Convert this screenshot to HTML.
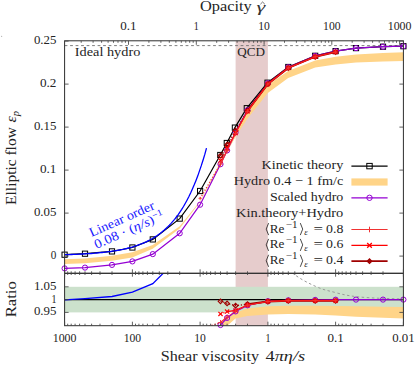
<!DOCTYPE html><html><head><meta charset="utf-8"><style>html,body{margin:0;padding:0;background:#fff}</style></head><body><svg width="415" height="367" viewBox="0 0 415 367" style="display:block">
<rect x="0" y="0" width="415" height="367" fill="#fff"/>
<defs>
<clipPath id="cm"><rect x="64.6" y="40.8" width="338.79999999999995" height="232.5"/></clipPath>
<clipPath id="cr"><rect x="64.6" y="273.3" width="338.79999999999995" height="52.39999999999998"/></clipPath>
</defs>
<rect x="235.6" y="40.8" width="32.3" height="284.9" fill="#e6cccc"/>
<rect x="64.6" y="286.8" width="338.79999999999995" height="25.6" fill="#cce1cc"/>
<line clip-path="url(#cm)" x1="64.6" y1="45.6" x2="403.4" y2="45.6" stroke="#707070" stroke-width="0.9" stroke-dasharray="2.8 2.7"/>
<polyline clip-path="url(#cm)" points="64.6,254.7 85.0,253.7 112.0,251.4 132.4,247.5 152.8,239.4 179.7,218.6 200.1,191.0 220.3,155.0 226.8,143.0 234.9,127.6 246.8,108.2 267.5,82.7 288.3,67.0 315.2,55.8 335.6,51.1 356.0,48.1 383.0,46.7 403.4,46.2" fill="none" stroke="#000" stroke-width="1.2"/>
<rect x="62.0" y="252.1" width="5.2" height="5.2" fill="none" stroke="#000" stroke-width="1"/>
<rect x="82.4" y="251.1" width="5.2" height="5.2" fill="none" stroke="#000" stroke-width="1"/>
<rect x="109.4" y="248.8" width="5.2" height="5.2" fill="none" stroke="#000" stroke-width="1"/>
<rect x="129.8" y="244.9" width="5.2" height="5.2" fill="none" stroke="#000" stroke-width="1"/>
<rect x="150.2" y="236.8" width="5.2" height="5.2" fill="none" stroke="#000" stroke-width="1"/>
<rect x="177.1" y="216.0" width="5.2" height="5.2" fill="none" stroke="#000" stroke-width="1"/>
<rect x="197.5" y="188.4" width="5.2" height="5.2" fill="none" stroke="#000" stroke-width="1"/>
<rect x="217.7" y="152.4" width="5.2" height="5.2" fill="none" stroke="#000" stroke-width="1"/>
<rect x="224.2" y="140.4" width="5.2" height="5.2" fill="none" stroke="#000" stroke-width="1"/>
<rect x="232.3" y="125.0" width="5.2" height="5.2" fill="none" stroke="#000" stroke-width="1"/>
<rect x="244.2" y="105.6" width="5.2" height="5.2" fill="none" stroke="#000" stroke-width="1"/>
<rect x="264.9" y="80.1" width="5.2" height="5.2" fill="none" stroke="#000" stroke-width="1"/>
<rect x="285.7" y="64.4" width="5.2" height="5.2" fill="none" stroke="#000" stroke-width="1"/>
<rect x="312.6" y="53.2" width="5.2" height="5.2" fill="none" stroke="#000" stroke-width="1"/>
<rect x="333.0" y="48.5" width="5.2" height="5.2" fill="none" stroke="#000" stroke-width="1"/>
<rect x="353.4" y="45.5" width="5.2" height="5.2" fill="none" stroke="#000" stroke-width="1"/>
<rect x="380.4" y="44.1" width="5.2" height="5.2" fill="none" stroke="#000" stroke-width="1"/>
<rect x="400.8" y="43.6" width="5.2" height="5.2" fill="none" stroke="#000" stroke-width="1"/>
<polygon clip-path="url(#cm)" points="64.6,259.3 84.9,258.4 111.9,255.7 132.3,252.2 152.7,244.9 179.7,226.2 200.1,201.0 220.5,161.5 235.5,131.5 247.4,110.0 267.8,85.0 288.2,71.0 315.2,60.5 335.6,56.8 356.0,54.6 383.0,53.0 403.4,52.3 403.4,60.9 383.0,61.5 356.0,62.6 335.6,64.5 315.2,67.5 288.2,78.0 267.8,93.0 247.4,118.7 235.5,137.0 220.5,163.5 200.1,201.9 179.7,228.4 152.7,248.8 132.3,257.6 111.9,260.8 84.9,263.2 64.6,263.9" fill="#ffd488"/>
<polyline clip-path="url(#cm)" points="64.6,268.4 85.0,267.6 112.0,264.9 132.4,261.4 152.8,254.1 179.7,233.3 200.1,204.7 220.5,164.2 227.1,150.4 235.6,132.2 247.5,110.2 267.9,83.3 288.3,67.2 315.2,55.9 335.6,51.1 356.0,48.1 383.0,46.7 403.4,46.2" fill="none" stroke="#9400d3" stroke-width="1.2"/>
<circle cx="64.6" cy="268.4" r="2.6" fill="none" stroke="#9400d3" stroke-width="1"/>
<circle cx="85.0" cy="267.6" r="2.6" fill="none" stroke="#9400d3" stroke-width="1"/>
<circle cx="112.0" cy="264.9" r="2.6" fill="none" stroke="#9400d3" stroke-width="1"/>
<circle cx="132.4" cy="261.4" r="2.6" fill="none" stroke="#9400d3" stroke-width="1"/>
<circle cx="152.8" cy="254.1" r="2.6" fill="none" stroke="#9400d3" stroke-width="1"/>
<circle cx="179.7" cy="233.3" r="2.6" fill="none" stroke="#9400d3" stroke-width="1"/>
<circle cx="200.1" cy="204.7" r="2.6" fill="none" stroke="#9400d3" stroke-width="1"/>
<circle cx="220.5" cy="164.2" r="2.6" fill="none" stroke="#9400d3" stroke-width="1"/>
<circle cx="227.1" cy="150.4" r="2.6" fill="none" stroke="#9400d3" stroke-width="1"/>
<circle cx="235.6" cy="132.2" r="2.6" fill="none" stroke="#9400d3" stroke-width="1"/>
<circle cx="247.5" cy="110.2" r="2.6" fill="none" stroke="#9400d3" stroke-width="1"/>
<circle cx="267.9" cy="83.3" r="2.6" fill="none" stroke="#9400d3" stroke-width="1"/>
<circle cx="288.3" cy="67.2" r="2.6" fill="none" stroke="#9400d3" stroke-width="1"/>
<circle cx="315.2" cy="55.9" r="2.6" fill="none" stroke="#9400d3" stroke-width="1"/>
<circle cx="335.6" cy="51.1" r="2.6" fill="none" stroke="#9400d3" stroke-width="1"/>
<circle cx="356.0" cy="48.1" r="2.6" fill="none" stroke="#9400d3" stroke-width="1"/>
<circle cx="383.0" cy="46.7" r="2.6" fill="none" stroke="#9400d3" stroke-width="1"/>
<circle cx="403.4" cy="46.2" r="2.6" fill="none" stroke="#9400d3" stroke-width="1"/>
<polyline clip-path="url(#cm)" points="220.5,155.7 227.1,144.7 235.6,130.7 247.5,110.9" fill="none" stroke="#a00000" stroke-width="1.3" stroke-dasharray="1.2 1.8"/>
<polyline clip-path="url(#cm)" points="247.5,110.9 267.9,84.0 288.3,67.9 315.2,56.7 335.6,52.0" fill="none" stroke="#a00000" stroke-width="2.0"/>
<path d="M218.2 155.7L220.5 153.4L222.8 155.7L220.5 158.0Z" stroke="#a00000" stroke-width="1.2" fill="none"/>
<path d="M224.8 144.7L227.1 142.4L229.4 144.7L227.1 147.0Z" stroke="#a00000" stroke-width="1.2" fill="none"/>
<path d="M233.3 130.7L235.6 128.4L237.9 130.7L235.6 133.0Z" stroke="#a00000" stroke-width="1.2" fill="none"/>
<path d="M245.2 110.9L247.5 108.6L249.8 110.9L247.5 113.2Z" stroke="#a00000" stroke-width="1.4" fill="none"/>
<path d="M265.6 84.0L267.9 81.7L270.2 84.0L267.9 86.3Z" stroke="#a00000" stroke-width="1.4" fill="none"/>
<path d="M286.0 67.9L288.3 65.6L290.6 67.9L288.3 70.2Z" stroke="#a00000" stroke-width="1.4" fill="none"/>
<path d="M312.9 56.7L315.2 54.4L317.5 56.7L315.2 59.0Z" stroke="#a00000" stroke-width="1.4" fill="none"/>
<path d="M333.3 52.0L335.6 49.7L337.9 52.0L335.6 54.3Z" stroke="#a00000" stroke-width="1.4" fill="none"/>
<polyline clip-path="url(#cm)" points="220.5,160.6 227.1,148.3" fill="none" stroke="#ff0000" stroke-width="1.3" stroke-dasharray="1.2 1.8"/>
<polyline clip-path="url(#cm)" points="227.1,148.3 235.6,133.0 247.5,111.3 267.9,84.0 288.3,67.9 315.2,56.7 335.6,52.0" fill="none" stroke="#ff0000" stroke-width="1.2"/>
<path d="M218.4 158.5L222.6 162.7M218.4 162.7L222.6 158.5" stroke="#ff0000" stroke-width="1.15" fill="none"/>
<path d="M225.0 146.2L229.2 150.4M225.0 150.4L229.2 146.2" stroke="#ff0000" stroke-width="1.15" fill="none"/>
<path d="M233.5 130.9L237.7 135.1M233.5 135.1L237.7 130.9" stroke="#ff0000" stroke-width="1.15" fill="none"/>
<path d="M245.4 109.2L249.6 113.4M245.4 113.4L249.6 109.2" stroke="#ff0000" stroke-width="1.15" fill="none"/>
<path d="M265.8 81.9L270.0 86.1M265.8 86.1L270.0 81.9" stroke="#ff0000" stroke-width="1.15" fill="none"/>
<path d="M286.2 65.8L290.4 70.0M286.2 70.0L290.4 65.8" stroke="#ff0000" stroke-width="1.15" fill="none"/>
<path d="M313.1 54.6L317.3 58.8M313.1 58.8L317.3 54.6" stroke="#ff0000" stroke-width="1.15" fill="none"/>
<path d="M333.5 49.9L337.7 54.1M333.5 54.1L337.7 49.9" stroke="#ff0000" stroke-width="1.15" fill="none"/>
<polyline clip-path="url(#cm)" points="200.1,198.4 220.5,164.1" fill="none" stroke="#f03232" stroke-width="1.3" stroke-dasharray="1.2 1.8"/>
<polyline clip-path="url(#cm)" points="220.5,164.1 227.1,150.7" fill="none" stroke="#f03232" stroke-width="1.3"/>
<polyline clip-path="url(#cm)" points="227.1,150.7 235.6,133.4 247.5,111.4 267.9,84.0 288.3,67.9 315.2,56.7 335.6,52.0" fill="none" stroke="#f03232" stroke-width="0.7"/>
<path d="M198.5 198.4H201.7M200.1 196.8V200.0" stroke="#f03232" stroke-width="0.8" fill="none"/>
<path d="M217.9 164.1H223.1M220.5 161.5V166.7" stroke="#f03232" stroke-width="0.9" fill="none"/>
<path d="M224.5 150.7H229.7M227.1 148.1V153.3" stroke="#f03232" stroke-width="0.9" fill="none"/>
<path d="M233.0 133.4H238.2M235.6 130.8V136.0" stroke="#f03232" stroke-width="0.9" fill="none"/>
<path d="M244.9 111.4H250.1M247.5 108.8V114.0" stroke="#f03232" stroke-width="0.9" fill="none"/>
<path d="M265.3 84.0H270.5M267.9 81.4V86.6" stroke="#f03232" stroke-width="0.9" fill="none"/>
<path d="M285.7 67.9H290.9M288.3 65.3V70.5" stroke="#f03232" stroke-width="0.9" fill="none"/>
<path d="M312.6 56.7H317.8M315.2 54.1V59.3" stroke="#f03232" stroke-width="0.9" fill="none"/>
<path d="M333.0 52.0H338.2M335.6 49.4V54.6" stroke="#f03232" stroke-width="0.9" fill="none"/>
<polyline clip-path="url(#cm)" points="64.6,254.7 66.4,254.7 68.1,254.6 69.9,254.6 71.7,254.5 73.5,254.4 75.2,254.4 77.0,254.3 78.8,254.2 80.6,254.1 82.3,254.0 84.1,253.9 85.9,253.8 87.7,253.7 89.4,253.6 91.2,253.5 93.0,253.3 94.8,253.2 96.5,253.0 98.3,252.9 100.1,252.7 101.9,252.5 103.6,252.3 105.4,252.1 107.2,251.9 109.0,251.7 110.7,251.5 112.5,251.2 114.3,250.9 116.1,250.6 117.8,250.3 119.6,250.0 121.4,249.6 123.2,249.3 124.9,248.9 126.7,248.5 128.5,248.0 130.2,247.6 132.0,247.1 133.8,246.5 135.6,246.0 137.3,245.4 139.1,244.7 140.9,244.0 142.7,243.3 144.4,242.6 146.2,241.8 148.0,240.9 149.8,240.0 151.5,239.0 153.3,238.0 155.1,236.9 156.9,235.7 158.6,234.5 160.4,233.2 162.2,231.8 164.0,230.3 165.7,228.7 167.5,227.1 169.3,225.3 171.1,223.4 172.8,221.4 174.6,219.3 176.4,217.0 178.2,214.6 179.9,212.1 181.7,209.4 183.5,206.5 185.2,203.5 187.0,200.2 188.8,196.8 190.6,193.1 192.3,189.2 194.1,185.1 195.9,180.7 197.7,176.1 199.4,171.1 201.2,165.9 203.0,160.3 204.8,154.4 206.5,148.1" fill="none" stroke="#0000ff" stroke-width="1.3"/>
<line clip-path="url(#cr)" x1="64.6" y1="299.6" x2="403.4" y2="299.6" stroke="#000" stroke-width="1.2"/>
<path clip-path="url(#cr)" d="M288.2 269.5 C 298 278, 306 282, 315.2 286.2 S 328 290.5, 335.6 292.6 S 348 295.6, 356 296.6 S 374 298, 383 298.4 L 403.4 299.0" fill="none" stroke="#999" stroke-width="1" stroke-dasharray="2.5 2.5"/>
<polygon clip-path="url(#cr)" points="220.5,325.5 227.0,318.0 235.5,312.8 247.4,308.6 267.8,306.3 288.2,305.8 315.2,305.8 335.6,306.0 356.0,306.3 383.0,306.8 403.4,307.1 403.4,318.5 383.0,317.8 356.0,316.8 335.6,315.6 315.2,314.6 288.2,314.1 267.8,314.5 247.4,316.0 235.5,318.5 227.3,325.8" fill="#ffd488"/>
<polyline clip-path="url(#cr)" points="200.1,353.9 220.5,325.0 227.1,317.9 235.6,311.4 247.5,305.3 267.9,301.2 288.3,300.3 315.2,299.9 335.6,299.7 356.0,299.6 383.0,299.6 403.4,299.6" fill="none" stroke="#9400d3" stroke-width="1.3"/>
<circle cx="220.5" cy="325.0" r="2.6" fill="none" stroke="#9400d3" stroke-width="1"/>
<circle cx="227.1" cy="317.9" r="2.6" fill="none" stroke="#9400d3" stroke-width="1"/>
<circle cx="235.6" cy="311.4" r="2.6" fill="none" stroke="#9400d3" stroke-width="1"/>
<circle cx="247.5" cy="305.3" r="2.6" fill="none" stroke="#9400d3" stroke-width="1"/>
<circle cx="267.9" cy="301.2" r="2.6" fill="none" stroke="#9400d3" stroke-width="1"/>
<circle cx="288.3" cy="300.3" r="2.6" fill="none" stroke="#9400d3" stroke-width="1"/>
<circle cx="315.2" cy="299.9" r="2.6" fill="none" stroke="#9400d3" stroke-width="1"/>
<circle cx="335.6" cy="299.7" r="2.6" fill="none" stroke="#9400d3" stroke-width="1"/>
<circle cx="356.0" cy="299.6" r="2.6" fill="none" stroke="#9400d3" stroke-width="1"/>
<circle cx="383.0" cy="299.6" r="2.6" fill="none" stroke="#9400d3" stroke-width="1"/>
<circle cx="403.4" cy="299.6" r="2.6" fill="none" stroke="#9400d3" stroke-width="1"/>
<polyline clip-path="url(#cr)" points="220.5,301.3 227.1,303.4 235.6,305.7 247.5,304.2" fill="none" stroke="#a00000" stroke-width="1.3" stroke-dasharray="1.2 1.8"/>
<polyline clip-path="url(#cr)" points="247.5,304.2 267.9,301.5 288.3,300.7 315.2,300.7 335.6,300.7" fill="none" stroke="#a00000" stroke-width="2.0"/>
<path d="M218.2 301.3L220.5 299.0L222.8 301.3L220.5 303.6Z" stroke="#a00000" stroke-width="1.2" fill="none"/>
<path d="M224.8 303.4L227.1 301.1L229.4 303.4L227.1 305.7Z" stroke="#a00000" stroke-width="1.2" fill="none"/>
<path d="M233.3 305.7L235.6 303.4L237.9 305.7L235.6 308.0Z" stroke="#a00000" stroke-width="1.2" fill="none"/>
<path d="M245.2 304.2L247.5 301.9L249.8 304.2L247.5 306.5Z" stroke="#a00000" stroke-width="1.4" fill="none"/>
<path d="M265.6 301.5L267.9 299.2L270.2 301.5L267.9 303.8Z" stroke="#a00000" stroke-width="1.4" fill="none"/>
<path d="M286.0 300.7L288.3 298.4L290.6 300.7L288.3 303.0Z" stroke="#a00000" stroke-width="1.4" fill="none"/>
<path d="M312.9 300.7L315.2 298.4L317.5 300.7L315.2 303.0Z" stroke="#a00000" stroke-width="1.4" fill="none"/>
<path d="M333.3 300.7L335.6 298.4L337.9 300.7L335.6 303.0Z" stroke="#a00000" stroke-width="1.4" fill="none"/>
<polyline clip-path="url(#cr)" points="220.5,313.9 227.1,311.6" fill="none" stroke="#ff0000" stroke-width="1.3" stroke-dasharray="1.2 1.8"/>
<polyline clip-path="url(#cr)" points="227.1,311.6 235.6,310.4 247.5,305.0 267.9,301.5 288.3,300.7 315.2,300.7 335.6,300.7" fill="none" stroke="#ff0000" stroke-width="1.2"/>
<path d="M218.4 311.8L222.6 316.0M218.4 316.0L222.6 311.8" stroke="#ff0000" stroke-width="1.15" fill="none"/>
<path d="M225.0 309.5L229.2 313.7M225.0 313.7L229.2 309.5" stroke="#ff0000" stroke-width="1.15" fill="none"/>
<path d="M233.5 308.3L237.7 312.5M233.5 312.5L237.7 308.3" stroke="#ff0000" stroke-width="1.15" fill="none"/>
<path d="M245.4 302.9L249.6 307.1M245.4 307.1L249.6 302.9" stroke="#ff0000" stroke-width="1.15" fill="none"/>
<path d="M265.8 299.4L270.0 303.6M265.8 303.6L270.0 299.4" stroke="#ff0000" stroke-width="1.15" fill="none"/>
<path d="M286.2 298.6L290.4 302.8M286.2 302.8L290.4 298.6" stroke="#ff0000" stroke-width="1.15" fill="none"/>
<path d="M313.1 298.6L317.3 302.8M313.1 302.8L317.3 298.6" stroke="#ff0000" stroke-width="1.15" fill="none"/>
<path d="M333.5 298.6L337.7 302.8M333.5 302.8L337.7 298.6" stroke="#ff0000" stroke-width="1.15" fill="none"/>
<polyline clip-path="url(#cr)" points="200.1,329.0 220.5,322.6" fill="none" stroke="#f03232" stroke-width="1.3" stroke-dasharray="1.2 1.8"/>
<polyline clip-path="url(#cr)" points="220.5,322.6 227.1,317.0" fill="none" stroke="#f03232" stroke-width="1.3"/>
<polyline clip-path="url(#cr)" points="227.1,317.0 235.6,311.1 247.5,305.2 267.9,301.5 288.3,300.7 315.2,300.7 335.6,300.7" fill="none" stroke="#f03232" stroke-width="0.7"/>
<path d="M217.9 322.6H223.1M220.5 320.0V325.2" stroke="#f03232" stroke-width="0.9" fill="none"/>
<path d="M224.5 317.0H229.7M227.1 314.4V319.6" stroke="#f03232" stroke-width="0.9" fill="none"/>
<path d="M233.0 311.1H238.2M235.6 308.5V313.7" stroke="#f03232" stroke-width="0.9" fill="none"/>
<path d="M244.9 305.2H250.1M247.5 302.6V307.8" stroke="#f03232" stroke-width="0.9" fill="none"/>
<path d="M265.3 301.5H270.5M267.9 298.9V304.1" stroke="#f03232" stroke-width="0.9" fill="none"/>
<path d="M285.7 300.7H290.9M288.3 298.1V303.3" stroke="#f03232" stroke-width="0.9" fill="none"/>
<path d="M312.6 300.7H317.8M315.2 298.1V303.3" stroke="#f03232" stroke-width="0.9" fill="none"/>
<path d="M333.0 300.7H338.2M335.6 298.1V303.3" stroke="#f03232" stroke-width="0.9" fill="none"/>
<polyline clip-path="url(#cr)" points="64.6,299.8 85.0,298.6 112.0,296.5 132.4,292.1 152.8,283.7 179.7,256.7 200.1,230.0" fill="none" stroke="#0000ff" stroke-width="1.3"/>
<rect x="64.6" y="40.8" width="338.79999999999995" height="232.5" fill="none" stroke="#2e2e2e" stroke-width="1"/>
<rect x="64.6" y="273.3" width="338.79999999999995" height="52.39999999999998" fill="none" stroke="#2e2e2e" stroke-width="1"/>
<path d="M81.2 40.8L81.2 42.8M93.1 40.8L93.1 42.8M101.6 40.8L101.6 42.8M108.1 40.8L108.1 42.8M113.5 40.8L113.5 42.8M118.0 40.8L118.0 42.8M122.0 40.8L122.0 42.8M125.4 40.8L125.4 42.8M128.5 40.8L128.5 44.8M148.9 40.8L148.9 42.8M160.9 40.8L160.9 42.8M169.3 40.8L169.3 42.8M175.9 40.8L175.9 42.8M181.3 40.8L181.3 42.8M185.8 40.8L185.8 42.8M189.7 40.8L189.7 42.8M193.2 40.8L193.2 42.8M196.3 40.8L196.3 44.8M216.7 40.8L216.7 42.8M228.6 40.8L228.6 42.8M237.1 40.8L237.1 42.8M243.7 40.8L243.7 42.8M249.0 40.8L249.0 42.8M253.6 40.8L253.6 42.8M257.5 40.8L257.5 42.8M261.0 40.8L261.0 42.8M264.1 40.8L264.1 44.8M284.5 40.8L284.5 42.8M296.4 40.8L296.4 42.8M304.9 40.8L304.9 42.8M311.4 40.8L311.4 42.8M316.8 40.8L316.8 42.8M321.3 40.8L321.3 42.8M325.3 40.8L325.3 42.8M328.7 40.8L328.7 42.8M331.8 40.8L331.8 44.8M352.2 40.8L352.2 42.8M364.1 40.8L364.1 42.8M372.6 40.8L372.6 42.8M379.2 40.8L379.2 42.8M384.5 40.8L384.5 42.8M389.1 40.8L389.1 42.8M393.0 40.8L393.0 42.8M396.5 40.8L396.5 42.8M399.6 40.8L399.6 44.8M403.4 269.3L403.4 276.7M403.4 321.7L403.4 325.7M383.0 271.3L383.0 275.0M383.0 323.7L383.0 325.7M371.1 271.3L371.1 275.0M371.1 323.7L371.1 325.7M362.6 271.3L362.6 275.0M362.6 323.7L362.6 325.7M356.0 271.3L356.0 275.0M356.0 323.7L356.0 325.7M350.7 271.3L350.7 275.0M350.7 323.7L350.7 325.7M346.1 271.3L346.1 275.0M346.1 323.7L346.1 325.7M342.2 271.3L342.2 275.0M342.2 323.7L342.2 325.7M338.7 271.3L338.7 275.0M338.7 323.7L338.7 325.7M335.6 269.3L335.6 276.7M335.6 321.7L335.6 325.7M315.2 271.3L315.2 275.0M315.2 323.7L315.2 325.7M303.3 271.3L303.3 275.0M303.3 323.7L303.3 325.7M294.8 271.3L294.8 275.0M294.8 323.7L294.8 325.7M288.3 271.3L288.3 275.0M288.3 323.7L288.3 325.7M282.9 271.3L282.9 275.0M282.9 323.7L282.9 325.7M278.4 271.3L278.4 275.0M278.4 323.7L278.4 325.7M274.4 271.3L274.4 275.0M274.4 323.7L274.4 325.7M271.0 271.3L271.0 275.0M271.0 323.7L271.0 325.7M267.9 269.3L267.9 276.7M267.9 321.7L267.9 325.7M247.5 271.3L247.5 275.0M247.5 323.7L247.5 325.7M235.6 271.3L235.6 275.0M235.6 323.7L235.6 325.7M227.1 271.3L227.1 275.0M227.1 323.7L227.1 325.7M220.5 271.3L220.5 275.0M220.5 323.7L220.5 325.7M215.2 271.3L215.2 275.0M215.2 323.7L215.2 325.7M210.6 271.3L210.6 275.0M210.6 323.7L210.6 325.7M206.7 271.3L206.7 275.0M206.7 323.7L206.7 325.7M203.2 271.3L203.2 275.0M203.2 323.7L203.2 325.7M200.1 269.3L200.1 276.7M200.1 321.7L200.1 325.7M179.7 271.3L179.7 275.0M179.7 323.7L179.7 325.7M167.8 271.3L167.8 275.0M167.8 323.7L167.8 325.7M159.3 271.3L159.3 275.0M159.3 323.7L159.3 325.7M152.8 271.3L152.8 275.0M152.8 323.7L152.8 325.7M147.4 271.3L147.4 275.0M147.4 323.7L147.4 325.7M142.9 271.3L142.9 275.0M142.9 323.7L142.9 325.7M138.9 271.3L138.9 275.0M138.9 323.7L138.9 325.7M135.5 271.3L135.5 275.0M135.5 323.7L135.5 325.7M132.4 269.3L132.4 276.7M132.4 321.7L132.4 325.7M112.0 271.3L112.0 275.0M112.0 323.7L112.0 325.7M100.0 271.3L100.0 275.0M100.0 323.7L100.0 325.7M91.6 271.3L91.6 275.0M91.6 323.7L91.6 325.7M85.0 271.3L85.0 275.0M85.0 323.7L85.0 325.7M79.6 271.3L79.6 275.0M79.6 323.7L79.6 325.7M75.1 271.3L75.1 275.0M75.1 323.7L75.1 325.7M71.2 271.3L71.2 275.0M71.2 323.7L71.2 325.7M67.7 271.3L67.7 275.0M67.7 323.7L67.7 325.7M64.6 269.3L64.6 276.7M64.6 321.7L64.6 325.7M64.6 256.1L68.6 256.1M399.4 256.1L403.4 256.1M64.6 213.1L68.6 213.1M399.4 213.1L403.4 213.1M64.6 170.1L68.6 170.1M399.4 170.1L403.4 170.1M64.6 127.1L68.6 127.1M399.4 127.1L403.4 127.1M64.6 84.1L68.6 84.1M399.4 84.1L403.4 84.1M64.6 41.1L68.6 41.1M399.4 41.1L403.4 41.1M64.6 312.4L68.6 312.4M399.4 312.4L403.4 312.4M64.6 299.6L68.6 299.6M399.4 299.6L403.4 299.6M64.6 286.8L68.6 286.8M399.4 286.8L403.4 286.8" stroke="#444" stroke-width="0.85" fill="none"/>
<g font-family="'Liberation Serif', serif" fill="#242424">
<text x="56.4" y="258.9" font-size="12.8" text-anchor="end" textLength="5.6" lengthAdjust="spacingAndGlyphs">0</text>
<text x="56.4" y="215.9" font-size="12.8" text-anchor="end" textLength="22.5" lengthAdjust="spacingAndGlyphs">0.05</text>
<text x="56.4" y="172.9" font-size="12.8" text-anchor="end" textLength="16.5" lengthAdjust="spacingAndGlyphs">0.1</text>
<text x="56.4" y="129.9" font-size="12.8" text-anchor="end" textLength="22.5" lengthAdjust="spacingAndGlyphs">0.15</text>
<text x="56.4" y="86.9" font-size="12.8" text-anchor="end" textLength="16.5" lengthAdjust="spacingAndGlyphs">0.2</text>
<text x="56.4" y="43.9" font-size="12.8" text-anchor="end" textLength="22.5" lengthAdjust="spacingAndGlyphs">0.25</text>
<text x="56.4" y="315.4" font-size="12.8" text-anchor="end" textLength="22.5" lengthAdjust="spacingAndGlyphs">0.95</text>
<text x="56.4" y="302.6" font-size="12.8" text-anchor="end" textLength="5.0" lengthAdjust="spacingAndGlyphs">1</text>
<text x="56.4" y="289.8" font-size="12.8" text-anchor="end" textLength="22.5" lengthAdjust="spacingAndGlyphs">1.05</text>
<text x="128.5" y="30.0" font-size="12.8" text-anchor="middle" textLength="16.3" lengthAdjust="spacingAndGlyphs">0.1</text>
<text x="196.3" y="30.0" font-size="12.8" text-anchor="middle" textLength="5.0" lengthAdjust="spacingAndGlyphs">1</text>
<text x="264.1" y="30.0" font-size="12.8" text-anchor="middle" textLength="11.6" lengthAdjust="spacingAndGlyphs">10</text>
<text x="331.8" y="30.0" font-size="12.8" text-anchor="middle" textLength="17.5" lengthAdjust="spacingAndGlyphs">100</text>
<text x="399.6" y="30.0" font-size="12.8" text-anchor="middle" textLength="23.8" lengthAdjust="spacingAndGlyphs">1000</text>
<text x="64.6" y="342.2" font-size="12.8" text-anchor="middle" textLength="23.8" lengthAdjust="spacingAndGlyphs">1000</text>
<text x="132.4" y="342.2" font-size="12.8" text-anchor="middle" textLength="17.5" lengthAdjust="spacingAndGlyphs">100</text>
<text x="200.1" y="342.2" font-size="12.8" text-anchor="middle" textLength="11.6" lengthAdjust="spacingAndGlyphs">10</text>
<text x="267.9" y="342.2" font-size="12.8" text-anchor="middle" textLength="5.0" lengthAdjust="spacingAndGlyphs">1</text>
<text x="335.6" y="342.2" font-size="12.8" text-anchor="middle" textLength="16.3" lengthAdjust="spacingAndGlyphs">0.1</text>
<text x="403.4" y="342.2" font-size="12.8" text-anchor="middle" textLength="22.5" lengthAdjust="spacingAndGlyphs">0.01</text>
<text x="74.8" y="56.2" font-size="13.1" text-anchor="start" textLength="65.5" lengthAdjust="spacingAndGlyphs">Ideal hydro</text>
<text x="237.3" y="55.8" font-size="13.1" text-anchor="start" textLength="27.7" lengthAdjust="spacingAndGlyphs">QCD</text>
<text x="343.3" y="169.1" font-size="13.1" text-anchor="end" textLength="81.8" lengthAdjust="spacingAndGlyphs">Kinetic theory</text>
<text x="343.3" y="184.9" font-size="13.1" text-anchor="end" textLength="109.6" lengthAdjust="spacingAndGlyphs">Hydro 0.4 − 1 fm/c</text>
<text x="343.3" y="200.8" font-size="13.1" text-anchor="end" textLength="73.4" lengthAdjust="spacingAndGlyphs">Scaled hydro</text>
<text x="343.3" y="216.7" font-size="13.1" text-anchor="end" textLength="107.2" lengthAdjust="spacingAndGlyphs">Kin.theory+Hydro</text>
<path d="M268.6 223.1L266.2 229.1L268.6 235.1M300.3 223.1L302.7 229.1L300.3 235.1" fill="none" stroke="#1c1c1c" stroke-width="0.8"/>
<text x="269.8" y="232.5" font-size="13.1" textLength="14.6" lengthAdjust="spacingAndGlyphs">Re</text>
<text x="285.7" y="227.6" font-size="9.3" textLength="11.8" lengthAdjust="spacingAndGlyphs">−1</text>
<text x="304.3" y="235.0" font-size="8.8" font-style="italic">ε</text>
<text x="313.5" y="232.5" font-size="13.1" textLength="9.5" lengthAdjust="spacingAndGlyphs">=</text>
<text x="326.1" y="232.5" font-size="13.1" textLength="17.3" lengthAdjust="spacingAndGlyphs">0.8</text>
<path d="M268.6 238.9L266.2 244.9L268.6 250.9M300.3 238.9L302.7 244.9L300.3 250.9" fill="none" stroke="#1c1c1c" stroke-width="0.8"/>
<text x="269.8" y="248.35" font-size="13.1" textLength="14.6" lengthAdjust="spacingAndGlyphs">Re</text>
<text x="285.7" y="243.4" font-size="9.3" textLength="11.8" lengthAdjust="spacingAndGlyphs">−1</text>
<text x="304.3" y="250.8" font-size="8.8" font-style="italic">ε</text>
<text x="313.5" y="248.35" font-size="13.1" textLength="9.5" lengthAdjust="spacingAndGlyphs">=</text>
<text x="326.1" y="248.35" font-size="13.1" textLength="17.3" lengthAdjust="spacingAndGlyphs">0.6</text>
<path d="M268.6 254.8L266.2 260.8L268.6 266.8M300.3 254.8L302.7 260.8L300.3 266.8" fill="none" stroke="#1c1c1c" stroke-width="0.8"/>
<text x="269.8" y="264.2" font-size="13.1" textLength="14.6" lengthAdjust="spacingAndGlyphs">Re</text>
<text x="285.7" y="259.3" font-size="9.3" textLength="11.8" lengthAdjust="spacingAndGlyphs">−1</text>
<text x="304.3" y="266.7" font-size="8.8" font-style="italic">ε</text>
<text x="313.5" y="264.2" font-size="13.1" textLength="9.5" lengthAdjust="spacingAndGlyphs">=</text>
<text x="326.1" y="264.2" font-size="13.1" textLength="17.3" lengthAdjust="spacingAndGlyphs">0.4</text>
<text x="199.9" y="11.2" font-size="15" textLength="51.8" lengthAdjust="spacingAndGlyphs">Opacity</text>
<text x="256.6" y="11.5" font-size="15.5" font-style="italic" fill="#333" textLength="8.8" lengthAdjust="spacingAndGlyphs">γ</text>
<path d="M260.4 4.2 L262.6 2.0 L264.8 4.2" fill="none" stroke="#333" stroke-width="0.7"/>
<text x="160.8" y="361.4" font-size="15" textLength="98.2" lengthAdjust="spacingAndGlyphs">Shear viscosity</text>
<text x="265.5" y="361.4" font-size="15" textLength="39.6" lengthAdjust="spacingAndGlyphs">4<tspan font-style="italic">πη/s</tspan></text>
<text transform="translate(16.3,204.9) rotate(-90)" font-size="15" textLength="77.7" lengthAdjust="spacingAndGlyphs">Elliptic flow</text>
<text transform="translate(16.3,122.6) rotate(-90)" font-size="15" font-style="italic"><tspan textLength="6.4" lengthAdjust="spacingAndGlyphs">ε</tspan><tspan font-size="10.5" dy="2.6">p</tspan></text>
<text transform="translate(15.8,317.3) rotate(-90)" font-size="15" textLength="36" lengthAdjust="spacingAndGlyphs">Ratio</text>
</g>
<g font-family="'Liberation Serif', serif" fill="#1a1aff">
<text transform="translate(91.6,237.1) rotate(-24)" font-size="13.1" textLength="70" lengthAdjust="spacingAndGlyphs">Linear order</text>
<text transform="translate(96.5,249.0) rotate(-24)" font-size="13.1" textLength="75" lengthAdjust="spacingAndGlyphs">0.08 · (<tspan font-style="italic">η/s</tspan>)<tspan font-size="9" dy="-4.6">−1</tspan></text>
</g>
<line x1="351.4" y1="166.1" x2="387.6" y2="166.1" stroke="#000" stroke-width="1.2"/><rect x="366.8" y="163.4" width="5.4" height="5.4" fill="none" stroke="#000"/>
<rect x="351.4" y="178.4" width="36.2" height="7.2" fill="#ffd488"/>
<line x1="351.4" y1="197.8" x2="387.6" y2="197.8" stroke="#9400d3" stroke-width="1.2"/><circle cx="369.5" cy="197.8" r="2.7" fill="none" stroke="#9400d3"/>
<line x1="351.4" y1="229.5" x2="387.6" y2="229.5" stroke="#f03232" stroke-width="1.0"/>
<path d="M366.6 229.5H372.4M369.5 226.7V232.3" stroke="#f03232" stroke-width="1.0" fill="none"/>
<line x1="351.4" y1="245.35" x2="387.6" y2="245.35" stroke="#ff0000" stroke-width="1.4"/>
<path d="M367.2 243.0L371.8 247.7M367.2 247.7L371.8 243.0" stroke="#ff0000" stroke-width="1.3" fill="none"/>
<line x1="351.4" y1="261.2" x2="387.6" y2="261.2" stroke="#a00000" stroke-width="1.8"/>
<path d="M367.4 261.2L369.5 259.1L371.6 261.2L369.5 263.3Z" stroke="#a00000" stroke-width="1.5" fill="none"/>
<circle cx="1.7" cy="36.2" r="0.5" fill="#888"/>
</svg></body></html>
